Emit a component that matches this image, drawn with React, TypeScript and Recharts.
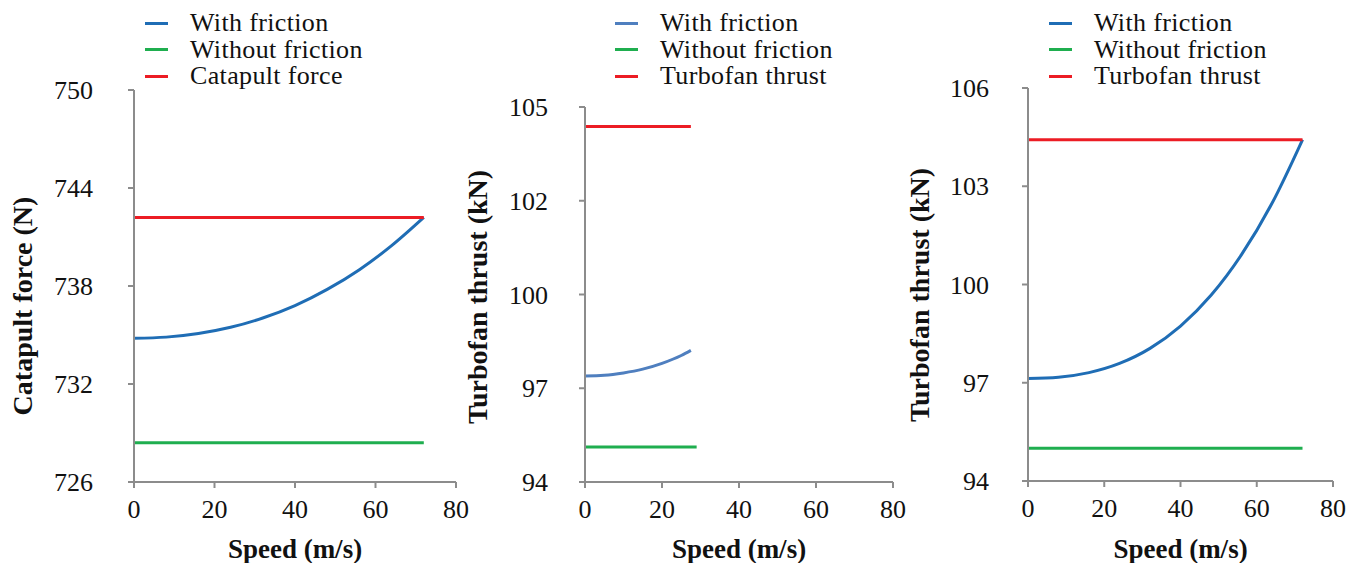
import React from "react";
import { LineChart, Line, XAxis, YAxis, Legend } from "recharts";

const FONT = '"Liberation Serif", "Times New Roman", Times, Tinos, "Nimbus Roman", "DejaVu Serif", serif';
const AXIS_GREY = "#8c8c8c";
const BLUE = "#1f6db5";
const BLUE_LIGHT = "#4f7fbf";
const GREEN = "#1fae4f";
const RED = "#ec1c24";

// shared x axis
const speedTicks = [0, 20, 40, 60, 80];

// panel 1: catapult
const catapultSpeed = [0, 8, 16, 24, 32, 40, 48, 56, 64, 72];
const catapultWithFriction = [734.8, 734.87, 735.09, 735.47, 736.04, 736.8, 737.79, 739.0, 740.47, 742.2];
const catapultFlatSpeed = [0, 72];
const catapultWithoutFriction = [728.4, 728.4];
const catapultForce = [742.2, 742.2];
const catapultTicks = [726, 732, 738, 744, 750];

// panel 2: turbofan, short run
const shortSpeed = [0, 5, 10, 15, 20, 25, 27.5];
const shortWithFriction = [97.11, 97.13, 97.2, 97.31, 97.48, 97.71, 97.86];
const shortGreenSpeed = [0, 29];
const shortWithoutFriction = [95.03, 95.03];
const shortRedSpeed = [0, 27.5];
const shortThrust = [104.43, 104.43];
const shortTicks = [94, 96.75, 99.5, 102.25, 105];

// panel 3: turbofan, full run
const fullSpeed = [0, 8, 16, 24, 32, 40, 48, 56, 64, 72];
const fullWithFriction = [97.13, 97.17, 97.31, 97.59, 98.05, 98.73, 99.67, 100.91, 102.48, 104.42];
const fullFlatSpeed = [0, 72];
const fullWithoutFriction = [95.0, 95.0];
const fullThrust = [104.42, 104.42];
const fullTicks = [94, 97, 100, 103, 106];

const toPoints = (xs: number[], ys: number[]) => xs.map((speed, i) => ({ speed, value: ys[i] }));

type Series = { name: string; color: string; xs: number[]; ys: number[]; curve?: boolean };

type PanelProps = {
  left: number;
  width: number;
  top: number;
  yAxisWidth: number;
  rightMargin: number;
  xAxisHeight: number;
  tickMargin: number;
  domain: [number, number];
  ticks: number[];
  yTitle: string;
  yTitleX: number;
  yTitleY: number;
  legendLeft: number;
  series: Series[];
};

const LegendBox = ({ series }: { series: Series[] }) => (
  <div style={{ fontFamily: FONT, fontSize: 26, color: "#111", lineHeight: "26.5px", letterSpacing: 0.35 }}>
    {series.map((s) => (
      <div key={s.name} style={{ display: "flex", alignItems: "center", height: 26.5 }}>
        <span style={{ display: "inline-block", width: 23, height: 3, background: s.color, marginRight: 22 }} />
        <span style={{ whiteSpace: "nowrap" }}>{s.name}</span>
      </div>
    ))}
  </div>
);

const Panel = (p: PanelProps) => (
  <div style={{ position: "absolute", left: p.left, top: 0 }}>
    <LineChart width={p.width} height={563} margin={{ top: p.top, right: p.rightMargin, left: 0, bottom: 0 }}>
      <XAxis
        type="number"
        dataKey="speed"
        domain={[0, 80]}
        ticks={speedTicks}
        allowDataOverflow
        height={p.xAxisHeight}
        stroke={AXIS_GREY}
        strokeWidth={2}
        tickSize={6}
        tickMargin={12}
        tick={{ fill: "#111", fontSize: 26, fontFamily: FONT }}
        label={{
          value: "Speed (m/s)",
          position: "insideBottom",
          offset: 5,
          style: { fontFamily: FONT, fontSize: 27, fontWeight: "bold", fill: "#111" },
        }}
      />
      <YAxis
        type="number"
        domain={p.domain}
        ticks={p.ticks}
        allowDataOverflow
        width={p.yAxisWidth}
        stroke={AXIS_GREY}
        strokeWidth={2}
        tickSize={6}
        tickMargin={p.tickMargin}
        tickFormatter={(v: number) => String(Math.round(v))}
        tick={{ fill: "#111", fontSize: 26, fontFamily: FONT }}
        label={() => (
          <text
            x={p.yTitleX}
            y={p.yTitleY}
            transform={`rotate(-90 ${p.yTitleX} ${p.yTitleY})`}
            textAnchor="middle"
            fontFamily={FONT}
            fontSize={28}
            fontWeight="bold"
            fill="#111"
          >
            {p.yTitle}
          </text>
        )}
      />
      <Legend
        layout="horizontal"
        verticalAlign="middle"
        align="center"
        wrapperStyle={{ top: 10, left: p.legendLeft, width: "auto" }}
        content={() => <LegendBox series={p.series} />}
      />
      {p.series.map((s) => (
        <Line
          key={s.name}
          data={toPoints(s.xs, s.ys)}
          dataKey="value"
          name={s.name}
          type={s.curve ? "monotone" : "linear"}
          stroke={s.color}
          strokeWidth={3}
          dot={false}
          activeDot={false}
          isAnimationActive={false}
        />
      ))}
    </LineChart>
  </div>
);

export default function App() {
  return (
    <div style={{ position: "absolute", left: 0, top: 0, width: 1363, height: 563, background: "#fff" }}>
      <Panel
        left={0}
        width={470}
        top={90}
        yAxisWidth={134}
        rightMargin={14}
        xAxisHeight={81}
        tickMargin={35}
        domain={[726, 750]}
        ticks={catapultTicks}
        yTitle="Catapult force (N)"
        yTitleX={32}
        yTitleY={306}
        legendLeft={145}
        series={[
          { name: "With friction", color: BLUE, xs: catapultSpeed, ys: catapultWithFriction, curve: true },
          { name: "Without friction", color: GREEN, xs: catapultFlatSpeed, ys: catapultWithoutFriction },
          { name: "Catapult force", color: RED, xs: catapultFlatSpeed, ys: catapultForce },
        ]}
      />
      <Panel
        left={450}
        width={460}
        top={107}
        yAxisWidth={135}
        rightMargin={17}
        xAxisHeight={81}
        tickMargin={31}
        domain={[94, 105]}
        ticks={shortTicks}
        yTitle="Turbofan thrust (kN)"
        yTitleX={37}
        yTitleY={297}
        legendLeft={165}
        series={[
          { name: "With friction", color: BLUE_LIGHT, xs: shortSpeed, ys: shortWithFriction, curve: true },
          { name: "Without friction", color: GREEN, xs: shortGreenSpeed, ys: shortWithoutFriction },
          { name: "Turbofan thrust", color: RED, xs: shortRedSpeed, ys: shortThrust },
        ]}
      />
      <Panel
        left={900}
        width={463}
        top={88}
        yAxisWidth={128}
        rightMargin={30}
        xAxisHeight={82}
        tickMargin={33}
        domain={[94, 106]}
        ticks={fullTicks}
        yTitle="Turbofan thrust (kN)"
        yTitleX={29}
        yTitleY={295}
        legendLeft={149}
        series={[
          { name: "With friction", color: BLUE, xs: fullSpeed, ys: fullWithFriction, curve: true },
          { name: "Without friction", color: GREEN, xs: fullFlatSpeed, ys: fullWithoutFriction },
          { name: "Turbofan thrust", color: RED, xs: fullFlatSpeed, ys: fullThrust },
        ]}
      />
    </div>
  );
}
